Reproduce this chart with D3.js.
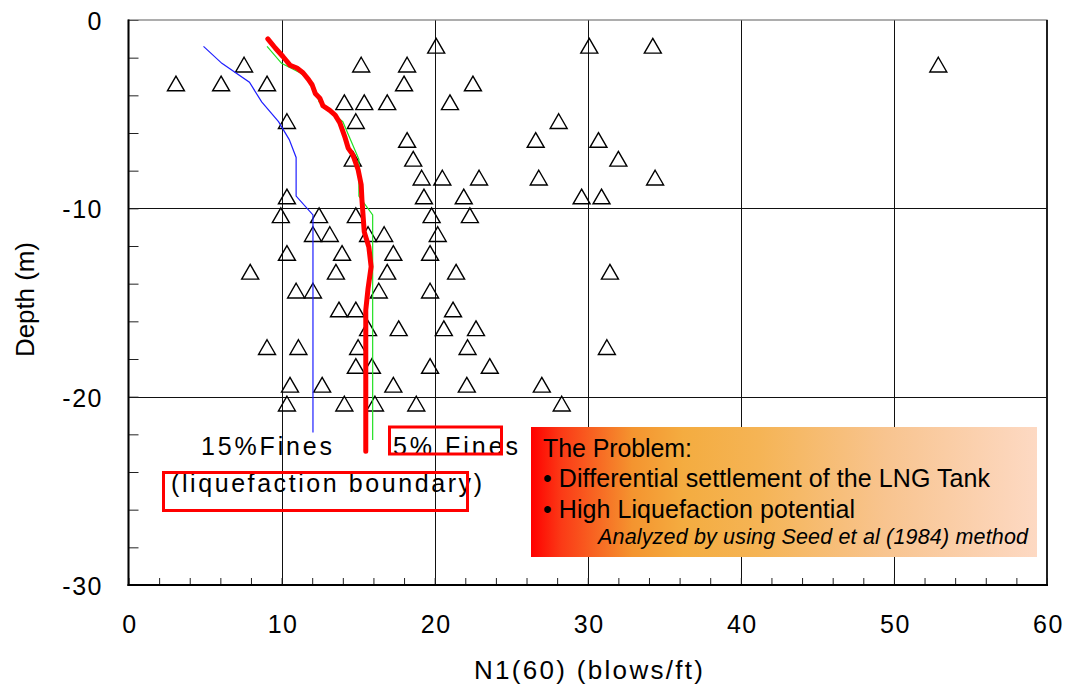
<!DOCTYPE html>
<html>
<head>
<meta charset="utf-8">
<script src="https://cdn.jsdelivr.net/npm/d3@7"></script>
<style>
  html, body { margin: 0; padding: 0; background: #fff; }
  svg { display: block; font-family: "Liberation Sans", Arial, sans-serif; }
</style>
</head>
<body>
<svg id="chart" width="1069" height="686"></svg>
<script>
// ---------------- DATA ----------------
const xTicks = [0, 10, 20, 30, 40, 50, 60];
const yTicks = [0, -10, -20, -30];
const xMinor = d3.range(0, 61, 2);
const yMinor = d3.range(0, -31, -2);

// SPT N1(60) observations (triangles)
const sptN = [
  20.1, 30.1, 34.25,
  7.55, 15.2, 18.2, 52.9,
  3.1, 6.05, 9.05, 18.0, 22.5,
  14.1, 15.4, 16.9, 21.0,
  10.35, 14.85, 28.1,
  18.2, 26.6, 30.7,
  14.65, 18.6, 32.0,
  19.15, 20.5, 22.9, 26.8, 34.4,
  10.35, 19.3, 21.9, 29.6, 30.9,
  9.95, 12.45, 14.85, 19.8, 22.3,
  12.05, 13.15, 15.65, 16.7, 20.2,
  10.35, 13.95, 17.3, 19.7,
  7.95, 13.55, 16.9, 21.4, 31.45,
  10.95, 12.05, 16.35, 19.7,
  13.75, 14.85, 21.2,
  15.65, 17.65, 20.6, 22.7,
  9.05, 11.1, 15.0, 22.15, 31.25,
  14.85, 15.9, 19.7, 23.6,
  10.55, 12.65, 17.3, 22.1, 27.0,
  10.35, 14.1, 16.1, 18.8, 28.3
];
const sptDepth = [
  -1.5, -1.5, -1.5,
  -2.5, -2.5, -2.5, -2.5,
  -3.5, -3.5, -3.5, -3.5, -3.5,
  -4.5, -4.5, -4.5, -4.5,
  -5.5, -5.5, -5.5,
  -6.5, -6.5, -6.5,
  -7.5, -7.5, -7.5,
  -8.5, -8.5, -8.5, -8.5, -8.5,
  -9.5, -9.5, -9.5, -9.5, -9.5,
  -10.5, -10.5, -10.5, -10.5, -10.5,
  -11.5, -11.5, -11.5, -11.5, -11.5,
  -12.5, -12.5, -12.5, -12.5,
  -13.5, -13.5, -13.5, -13.5, -13.5,
  -14.5, -14.5, -14.5, -14.5,
  -15.5, -15.5, -15.5,
  -16.5, -16.5, -16.5, -16.5,
  -17.5, -17.5, -17.5, -17.5, -17.5,
  -18.5, -18.5, -18.5, -18.5,
  -19.5, -19.5, -19.5, -19.5, -19.5,
  -20.5, -20.5, -20.5, -20.5, -20.5
];

// 15% fines liquefaction boundary (blue)
const fines15N     = [4.9, 6.1, 7.9, 8.7, 9.8, 10.5, 10.95, 10.95, 12.05, 12.05];
const fines15Depth = [-1.4, -2.3, -3.3, -4.35, -5.4, -6.35, -7.3, -9.35, -10.35, -21.9];

// 5% fines boundary (green)
const fines5N     = [9.05, 10.0, 11.2, 12.05, 12.45, 13.7, 14.0, 15.05, 15.05, 15.95, 15.95];
const fines5Depth = [-1.4, -2.3, -2.8, -3.35, -4.35, -5.2, -5.4, -7.4, -9.35, -10.35, -22.3];

// Site boundary (thick red)
const redN     = [9.1, 9.6, 10.1, 10.55, 11.0, 11.4, 11.75, 12.0, 12.2, 12.5, 12.7, 13.15, 13.5, 13.8, 14.15, 14.35, 14.65, 15.0, 15.2, 15.25, 15.4, 15.7, 15.85, 15.65, 15.5, 15.5, 15.5];
const redDepth = [-1.0, -1.5, -1.95, -2.4, -2.55, -2.8, -3.15, -3.45, -3.9, -4.15, -4.55, -4.8, -5.05, -5.45, -6.25, -6.8, -7.15, -7.95, -8.75, -9.55, -11.25, -12.05, -13.1, -14.25, -15.4, -16.6, -22.9];

const xTitle = "N1(60) (blows/ft)";
const yTitle = "Depth (m)";
const boxLines = ["The Problem:", "\u2022 Differential settlement of the LNG Tank", "\u2022 High Liquefaction potential"];
const boxNote = "Analyzed by using Seed et al (1984) method";

// ---------------- CHART ----------------
const svg = d3.select("#chart");
const x = d3.scaleLinear().domain([0, 60]).range([128.5, 1047]);
const y = d3.scaleLinear().domain([0, -30]).range([20, 585]);
const [x0, x1] = x.range();
const [y0, y1] = y.range();
const fmt = d => String(d);  // plain hyphen-minus

// gridlines
svg.append("g").selectAll("line").data(xTicks.slice(1, -1)).join("line")
  .attr("x1", d => Math.round(x(d)) + 0.5).attr("x2", d => Math.round(x(d)) + 0.5)
  .attr("y1", y0).attr("y2", y1).attr("stroke", "#111").attr("stroke-width", 1);
svg.append("g").selectAll("line").data(yTicks.slice(1, -1)).join("line")
  .attr("y1", d => Math.round(y(d)) + 0.5).attr("y2", d => Math.round(y(d)) + 0.5)
  .attr("x1", x0).attr("x2", x1).attr("stroke", "#111").attr("stroke-width", 1);

// minor ticks (inward)
svg.append("g").attr("transform", `translate(0,${y1})`)
  .call(d3.axisBottom(x).tickValues(xMinor).tickSize(-7).tickFormat(""))
  .call(g => g.select(".domain").remove())
  .call(g => g.selectAll("line").attr("stroke", "#222").attr("stroke-width", 1));
svg.append("g").attr("transform", `translate(${x0},0)`)
  .call(d3.axisLeft(y).tickValues(yMinor).tickSize(-10).tickFormat(""))
  .call(g => g.select(".domain").remove())
  .call(g => g.selectAll("line").attr("stroke", "#222").attr("stroke-width", 1));

// frame
svg.append("rect").attr("x", x0).attr("y", y0).attr("width", x1 - x0).attr("height", y1 - y0)
  .attr("fill", "none").attr("stroke", "#777").attr("stroke-width", 1.2);
svg.append("line").attr("x1", x1).attr("x2", x1).attr("y1", y0).attr("y2", y1)
  .attr("stroke", "#111").attr("stroke-width", 1.8);
svg.append("line").attr("x1", x0).attr("x2", x0).attr("y1", y0 - 0.5).attr("y2", y1 + 1)
  .attr("stroke", "#000").attr("stroke-width", 2);
svg.append("line").attr("x1", x0 - 1).attr("x2", x1 + 1).attr("y1", y1).attr("y2", y1)
  .attr("stroke", "#000").attr("stroke-width", 2);

// tick labels
svg.append("g").attr("transform", `translate(1,${y1})`)
  .call(d3.axisBottom(x).tickValues(xTicks).tickSize(0).tickPadding(30).tickFormat(fmt))
  .call(g => g.select(".domain").remove())
  .call(g => g.selectAll("text").attr("font-size", 25).attr("letter-spacing", "1.5px")
    .attr("fill", "#000").attr("font-family", "Liberation Sans, Arial, sans-serif"));
svg.append("g").attr("transform", `translate(${x0 + 1.5},0)`)
  .call(d3.axisLeft(y).tickValues(yTicks).tickSize(0).tickPadding(27).tickFormat(fmt))
  .call(g => g.select(".domain").remove())
  .call(g => g.selectAll("text").attr("font-size", 25).attr("letter-spacing", "1.5px").attr("dy", "0.38em")
    .attr("fill", "#000").attr("font-family", "Liberation Sans, Arial, sans-serif"));

// axis titles
svg.append("text").attr("x", 474).attr("y", 679).attr("font-size", 26)
  .attr("textLength", 229).attr("lengthAdjust", "spacing").text(xTitle);
svg.append("text").attr("transform", "translate(34,357) rotate(-90)").attr("font-size", 26)
  .attr("textLength", 115).attr("lengthAdjust", "spacing").text(yTitle);

// triangles
const pts = sptN.map((n, i) => ({ n, d: sptDepth[i] }));
const tri = d3.symbol().type(d3.symbolTriangle).size(125);
svg.append("g").selectAll("path").data(pts).join("path")
  .attr("transform", d => `translate(${x(d.n)},${y(d.d)})`)
  .attr("d", tri).attr("fill", "none").attr("stroke", "#000").attr("stroke-width", 1.4);

// lines
const line = d3.line().x(d => x(d[0])).y(d => y(d[1]));
svg.append("path").datum(fines15N.map((n, i) => [n, fines15Depth[i]]))
  .attr("d", line).attr("fill", "none").attr("stroke", "#1f1fff").attr("stroke-width", 1.2);
svg.append("path").datum(fines5N.map((n, i) => [n, fines5Depth[i]]))
  .attr("d", line).attr("fill", "none").attr("stroke", "#22e022").attr("stroke-width", 1.2);
svg.append("path").datum(redN.map((n, i) => [n, redDepth[i]]))
  .attr("d", line).attr("fill", "none").attr("stroke", "#ff0000").attr("stroke-width", 5)
  .attr("stroke-linecap", "round").attr("stroke-linejoin", "round");

// annotations
svg.append("text").attr("x", 201).attr("y", 455).attr("font-size", 25)
  .attr("textLength", 131).attr("lengthAdjust", "spacing").text("15%Fines");
svg.append("text").attr("x", 393).attr("y", 455).attr("font-size", 25)
  .attr("textLength", 125).attr("lengthAdjust", "spacing").text("5% Fines");
svg.append("text").attr("x", 171).attr("y", 492).attr("font-size", 25)
  .attr("textLength", 311).attr("lengthAdjust", "spacing").text("(liquefaction boundary)");
svg.append("rect").attr("x", 389.5).attr("y", 427).attr("width", 112).attr("height", 27)
  .attr("fill", "none").attr("stroke", "#ff0000").attr("stroke-width", 3);
svg.append("rect").attr("x", 163.5).attr("y", 472.5).attr("width", 304).attr("height", 38)
  .attr("fill", "none").attr("stroke", "#ff0000").attr("stroke-width", 3);

// gradient box
const defs = svg.append("defs");
const grad = defs.append("linearGradient").attr("id", "probGrad").attr("x1", "0%").attr("x2", "100%");
[[0, "#ff0000"], [0.06, "#fb3a16"], [0.2, "#f4942f"], [0.3, "#f4ac40"], [0.45, "#f5b455"], [0.7, "#f8c48f"], [1, "#fdd9c3"]]
  .forEach(([o, c]) => grad.append("stop").attr("offset", o).attr("stop-color", c));
svg.append("rect").attr("x", 531).attr("y", 427).attr("width", 506).attr("height", 130)
  .attr("fill", "url(#probGrad)");
const bl = [457, 487, 518];
const bw = [149, 447, 312];
boxLines.forEach((t, i) => {
  svg.append("text").attr("x", 543).attr("y", bl[i]).attr("font-size", 25).attr("fill", "#000")
    .attr("textLength", bw[i]).attr("lengthAdjust", "spacing").text(t);
});
svg.append("text").attr("x", 598).attr("y", 544).attr("font-size", 21.5).attr("font-style", "italic")
  .attr("textLength", 430).attr("lengthAdjust", "spacing").attr("fill", "#000").text(boxNote);
</script>
</body>
</html>
